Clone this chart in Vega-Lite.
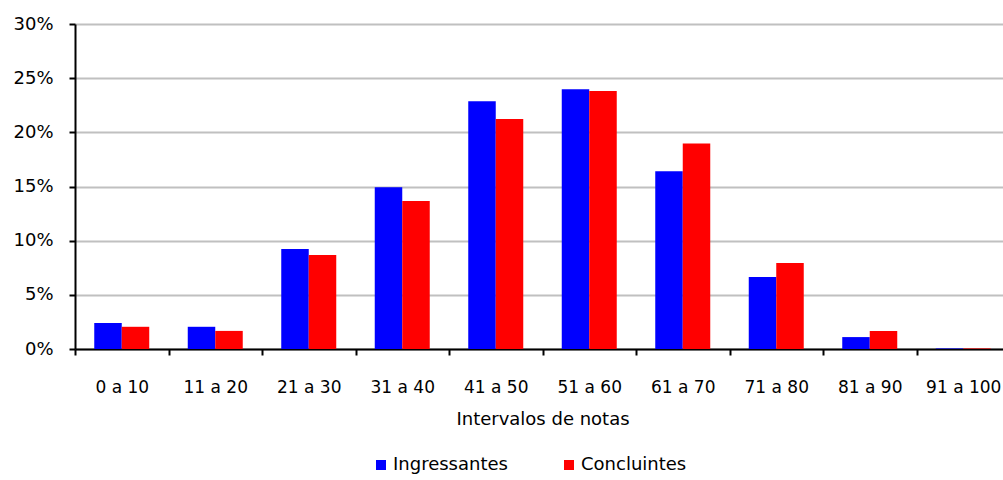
{
  "$schema": "https://vega.github.io/schema/vega-lite/v6.json",
  "autosize": {"type": "none"},
  "width": 935,
  "height": 325,
  "padding": {"left": 75, "top": 24, "right": 0, "bottom": 131},
  "background": "white",
  "config": {
    "view": {"stroke": null},
    "font": "DejaVu Sans",
    "axis": {"labelFont": "DejaVu Sans", "titleFont": "DejaVu Sans", "labelColor": "black", "titleColor": "black"}
  },
  "data": {
    "values": [
      {"intervalo": "0 a 10", "grupo": "Ingressantes", "valor": 0.024},
      {"intervalo": "0 a 10", "grupo": "Concluintes", "valor": 0.0205},
      {"intervalo": "11 a 20", "grupo": "Ingressantes", "valor": 0.0205},
      {"intervalo": "11 a 20", "grupo": "Concluintes", "valor": 0.0167},
      {"intervalo": "21 a 30", "grupo": "Ingressantes", "valor": 0.0923},
      {"intervalo": "21 a 30", "grupo": "Concluintes", "valor": 0.0868},
      {"intervalo": "31 a 40", "grupo": "Ingressantes", "valor": 0.1492},
      {"intervalo": "31 a 40", "grupo": "Concluintes", "valor": 0.1366},
      {"intervalo": "41 a 50", "grupo": "Ingressantes", "valor": 0.2286},
      {"intervalo": "41 a 50", "grupo": "Concluintes", "valor": 0.2123},
      {"intervalo": "51 a 60", "grupo": "Ingressantes", "valor": 0.2397},
      {"intervalo": "51 a 60", "grupo": "Concluintes", "valor": 0.2382},
      {"intervalo": "61 a 70", "grupo": "Ingressantes", "valor": 0.164},
      {"intervalo": "61 a 70", "grupo": "Concluintes", "valor": 0.1898},
      {"intervalo": "71 a 80", "grupo": "Ingressantes", "valor": 0.0665},
      {"intervalo": "71 a 80", "grupo": "Concluintes", "valor": 0.0794},
      {"intervalo": "81 a 90", "grupo": "Ingressantes", "valor": 0.011},
      {"intervalo": "81 a 90", "grupo": "Concluintes", "valor": 0.0166},
      {"intervalo": "91 a 100", "grupo": "Ingressantes", "valor": 0.0005},
      {"intervalo": "91 a 100", "grupo": "Concluintes", "valor": 0.0005}
    ]
  },
  "mark": {"type": "bar"},
  "encoding": {
    "x": {
      "field": "intervalo",
      "type": "nominal",
      "sort": null,
      "scale": {"paddingInner": 0, "paddingOuter": 0},
      "axis": {
        "title": "Intervalos de notas",
        "titleFontSize": 18,
        "titleFontWeight": "normal",
        "titlePadding": 15,
        "labelAngle": 0,
        "labelFontSize": 17,
        "labelPadding": 24,
        "tickBand": "extent",
        "tickColor": "black",
        "tickSize": 6,
        "tickWidth": 2,
        "domainColor": "black",
        "domainWidth": 2,
        "grid": false
      }
    },
    "xOffset": {
      "field": "grupo",
      "type": "nominal",
      "sort": ["Ingressantes", "Concluintes"],
      "scale": {"paddingInner": 0, "paddingOuter": 0.7}
    },
    "y": {
      "field": "valor",
      "type": "quantitative",
      "scale": {"domain": [0, 0.3], "nice": false},
      "axis": {
        "title": null,
        "format": ".0%",
        "values": [0, 0.05, 0.1, 0.15, 0.2, 0.25, 0.3],
        "labelFontSize": 18,
        "labelPadding": 16,
        "tickColor": "black",
        "tickSize": 6,
        "tickWidth": 2,
        "domainColor": "black",
        "domainWidth": 2,
        "grid": true,
        "gridColor": "#c0c0c0",
        "gridWidth": 2
      }
    },
    "color": {
      "field": "grupo",
      "type": "nominal",
      "sort": ["Ingressantes", "Concluintes"],
      "scale": {"domain": ["Ingressantes", "Concluintes"], "range": ["#0000ff", "#ff0000"]},
      "legend": {
        "title": null,
        "orient": "none",
        "direction": "horizontal",
        "legendX": 297,
        "legendY": 432,
        "symbolType": "square",
        "symbolSize": 100,
        "symbolStrokeWidth": 0,
        "labelFontSize": 18,
        "labelColor": "black",
        "labelFont": "DejaVu Sans",
        "labelOffset": 3,
        "columnPadding": 52
      }
    }
  }
}
